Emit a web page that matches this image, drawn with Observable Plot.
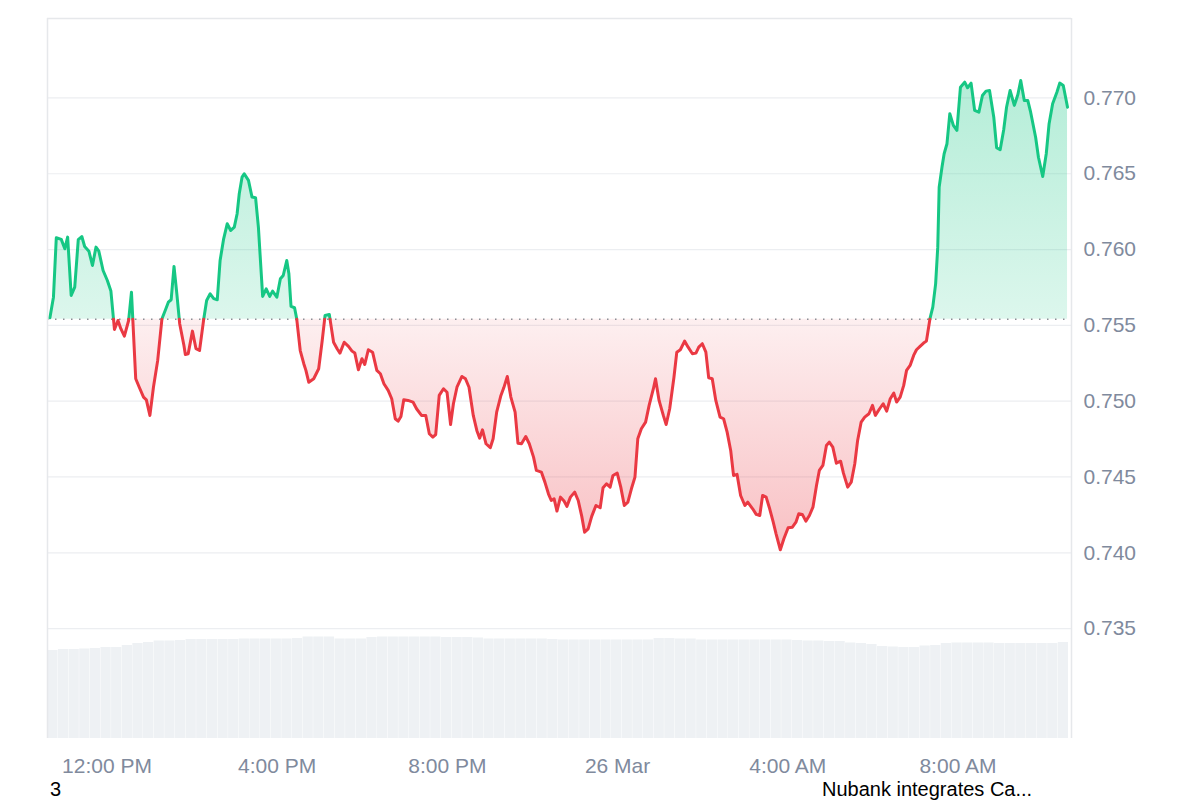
<!DOCTYPE html>
<html>
<head>
<meta charset="utf-8">
<script src="https://cdn.jsdelivr.net/npm/d3@7"></script>
<script src="https://cdn.jsdelivr.net/npm/@observablehq/plot@0.6"></script>
<style>
  body { margin: 0; background: #fff; font-family: "Liberation Sans", Arial, Helvetica, sans-serif; }
  #wrap { position: relative; width: 1200px; height: 800px; overflow: hidden; }
  .cap { position: absolute; font-size: 20px; line-height: 22px; color: #000; white-space: nowrap; }
</style>
</head>
<body>
<div id="wrap"></div>
<script>
// ---- Data ----
const startIso = "2025-03-25T10:36:30Z";        // time of minute 0 of the price series
const xDomainIso = ["2025-03-25T10:36:06Z", "2025-03-26T10:40:06Z"];
const baseline = 0.75541;                       // reference (open) price, dotted line
const yDomain = [0.72775, 0.77524];
const yTicks = [0.735, 0.740, 0.745, 0.750, 0.755, 0.760, 0.765, 0.770];
const xTickIso = ["2025-03-25T12:00:00Z", "2025-03-25T16:00:00Z", "2025-03-25T20:00:00Z",
                  "2025-03-26T00:00:00Z", "2025-03-26T04:00:00Z", "2025-03-26T08:00:00Z"];
const xTickLabels = ["12:00 PM", "4:00 PM", "8:00 PM", "26 Mar", "4:00 AM", "8:00 AM"];

// minutes after start
const priceMinutes = [3,8,12,19,24,28,33,38,43,48,52,58,63,68,72,78,84,89,94,99,103,108,114,118,124,129,135,139,144,149,155,161,166,170,174,178,182,186,192,194,198,204,209,214,220,224,229,234,239,243,248,253,258,263,267,270,274,277,283,288,293,297,303,308,313,317,323,328,332,337,340,343,348,351,356,361,364,368,375,382,387,391,397,403,408,412,418,424,429,433,438,443,447,452,458,464,469,474,480,485,490,494,498,502,508,515,520,527,533,538,543,547,552,558,563,568,572,577,584,589,594,600,605,609,613,618,624,628,633,639,643,648,653,659,663,668,674,679,685,689,696,701,706,710,714,718,723,728,732,737,743,748,753,757,762,767,773,779,783,788,793,797,803,808,813,818,823,828,832,837,843,848,854,857,862,868,872,877,883,887,892,898,903,909,914,918,923,928,932,937,942,948,953,958,963,967,972,977,983,987,994,999,1004,1008,1013,1018,1023,1027,1033,1038,1044,1050,1055,1059,1064,1069,1074,1079,1084,1088,1093,1098,1102,1107,1112,1118,1122,1128,1133,1138,1142,1147,1152,1158,1163,1167,1173,1178,1183,1188,1193,1197,1202,1207,1211,1216,1221,1225,1230,1235,1239,1241,1244,1248,1252,1255,1257,1261,1264,1268,1272,1277,1282,1287,1293,1297,1302,1307,1313,1318,1323,1328,1334,1338,1343,1348,1352,1357,1363,1368,1372,1377,1382,1386,1393,1397,1403,1408,1412,1417,1423,1427,1432,1438];

const prices = [0.75550,0.75686,0.76078,0.76067,0.76005,0.76082,0.75697,0.75752,0.76065,0.76086,0.76020,0.75989,0.75895,0.76016,0.75989,0.75862,0.75796,0.75726,0.75473,0.75532,0.75478,0.75429,0.75532,0.75719,0.75148,0.75092,0.75027,0.75009,0.74906,0.75092,0.75269,0.75544,0.75603,0.75653,0.75669,0.75889,0.75708,0.75511,0.75367,0.75308,0.75313,0.75462,0.75346,0.75334,0.75544,0.75664,0.75708,0.75676,0.75669,0.75928,0.76071,0.76170,0.76126,0.76148,0.76236,0.76368,0.76478,0.76500,0.76456,0.76346,0.76342,0.76148,0.75691,0.75741,0.75691,0.75726,0.75686,0.75807,0.75829,0.75928,0.75840,0.75625,0.75616,0.75544,0.75334,0.75247,0.75203,0.75125,0.75148,0.75214,0.75400,0.75565,0.75572,0.75389,0.75346,0.75317,0.75389,0.75361,0.75330,0.75317,0.75207,0.75280,0.75242,0.75339,0.75323,0.75203,0.75181,0.75115,0.75071,0.75016,0.74884,0.74868,0.74899,0.75009,0.75005,0.74994,0.74950,0.74906,0.74906,0.74785,0.74763,0.74780,0.75038,0.75082,0.75059,0.74846,0.74983,0.75092,0.75163,0.75148,0.75092,0.74906,0.74807,0.74756,0.74811,0.74719,0.74693,0.74752,0.74928,0.75038,0.75088,0.75163,0.75027,0.74928,0.74723,0.74719,0.74767,0.74719,0.74631,0.74543,0.74532,0.74466,0.74389,0.74345,0.74356,0.74275,0.74367,0.74341,0.74306,0.74367,0.74400,0.74345,0.74240,0.74136,0.74158,0.74240,0.74312,0.74297,0.74429,0.74455,0.74433,0.74510,0.74525,0.74433,0.74312,0.74334,0.74422,0.74499,0.74752,0.74818,0.74862,0.74972,0.75082,0.75148,0.75005,0.74906,0.74846,0.74950,0.75158,0.75323,0.75339,0.75396,0.75356,0.75313,0.75317,0.75356,0.75379,0.75323,0.75154,0.75148,0.75005,0.74895,0.74884,0.74796,0.74675,0.74510,0.74517,0.74378,0.74312,0.74334,0.74290,0.74253,0.74246,0.74378,0.74367,0.74290,0.74202,0.74125,0.74020,0.74092,0.74165,0.74169,0.74202,0.74257,0.74253,0.74209,0.74246,0.74301,0.74444,0.74543,0.74576,0.74708,0.74730,0.74697,0.74591,0.74604,0.74525,0.74433,0.74466,0.74587,0.74741,0.74862,0.74895,0.74917,0.74972,0.74906,0.74950,0.74983,0.74934,0.75016,0.75053,0.74994,0.75027,0.75104,0.75203,0.75236,0.75302,0.75339,0.75361,0.75383,0.75396,0.75455,0.75544,0.75620,0.75774,0.76016,0.76412,0.76544,0.76632,0.76698,0.76896,0.76819,0.76786,0.77071,0.77104,0.77067,0.77098,0.76918,0.76906,0.77016,0.77045,0.77049,0.76873,0.76672,0.76658,0.76790,0.76939,0.77049,0.76951,0.77023,0.77115,0.76983,0.76983,0.76906,0.76741,0.76609,0.76482,0.76632,0.76830,0.76962,0.77038,0.77098,0.77082,0.76939];

// 24h volume (million USD), one bar per 15 minutes
const volumeIntervalMinutes = 15;
const volumes = [176,178,178,179,180,182,182,186,190,192,195,195,196,198,198,198,198,198,199,199,199,199,199,200,203,203,203,199,199,199,202,203,203,203,203,203,203,202,202,202,201,199,199,199,199,199,199,198,197,197,197,197,197,197,197,197,197,200,200,199,199,197,197,197,197,197,197,197,197,197,196,195,195,194,194,191,190,188,184,183,182,182,185,186,190,191,191,191,191,190,190,190,190,190,190,192];
const volumeAxisMax = 1440;   // volume value that would fill the full plot height

const bottomLeftText = "3";
const bottomRightText = "Nubank integrates Ca...";

// ---- Build rows ----
const MIN = 60000;
const t0 = new Date(startIso).getTime();
const pts = priceMinutes.map((m, i) => ({t: new Date(t0 + m * MIN), p: prices[i]}));
const rows = [];
let seg = 0;
for (let i = 0; i < pts.length; i++) {
  const a = pts[i];
  const up = a.p >= baseline;
  if (i > 0) {
    const b = pts[i - 1];
    const bu = b.p >= baseline;
    if (bu !== up) {
      const f = (baseline - b.p) / (a.p - b.p);
      const tc = new Date(+b.t + f * (a.t - b.t));
      rows.push({t: tc, p: baseline, seg, up: bu});
      seg++;
      rows.push({t: tc, p: baseline, seg, up});
    }
  }
  rows.push({t: a.t, p: a.p, seg, up});
}
const upRows = rows.filter(d => d.up);
const dnRows = rows.filter(d => !d.up);

const volRows = volumes.map((v, i) => ({
  t1: new Date(t0 + i * volumeIntervalMinutes * MIN),
  t2: new Date(t0 + (i + 1) * volumeIntervalMinutes * MIN),
  top: yDomain[0] + v / volumeAxisMax * (yDomain[1] - yDomain[0])
}));

const xDomain = xDomainIso.map(s => new Date(s));
const xTicks = xTickIso.map(s => new Date(s));

const GREEN = "#16c784", RED = "#ea3943";

const chart = Plot.plot({
  width: 1200,
  height: 800,
  marginLeft: 47,
  marginRight: 129,
  marginTop: 18,
  marginBottom: 62,
  style: {fontFamily: "'Liberation Sans', Arial, Helvetica, sans-serif", fontSize: "21px", color: "#808a9d", background: "#fff"},
  x: {type: "utc", domain: xDomain, ticks: xTicks,
      tickFormat: d => xTickLabels[xTicks.findIndex(t => +t === +d)],
      tickSize: 0, tickPadding: 20, label: null},
  y: {domain: yDomain, axis: "right", ticks: yTicks, tickFormat: d3.format(".3f"),
      tickSize: 0, tickPadding: 12, label: null},
  marks: [
    Plot.ruleY(yTicks, {stroke: "#eceef1", strokeWidth: 1.2}),
    Plot.rect(volRows, {x1: "t1", x2: "t2", y1: yDomain[0], y2: "top", fill: "#eef1f4", insetRight: 0.4}),
    Plot.areaY(upRows, {x: "t", y1: baseline, y2: "p", z: "seg", fill: "url(#gGreen)"}),
    Plot.areaY(dnRows, {x: "t", y1: baseline, y2: "p", z: "seg", fill: "url(#gRed)"}),
    Plot.ruleY([baseline], {stroke: "#8b8f96", strokeWidth: 1.5, strokeDasharray: "1.5,6.5"}),
    Plot.line(upRows, {x: "t", y: "p", z: "seg", stroke: GREEN, strokeWidth: 3, strokeLinejoin: "round", strokeLinecap: "round"}),
    Plot.line(dnRows, {x: "t", y: "p", z: "seg", stroke: RED, strokeWidth: 3, strokeLinejoin: "round", strokeLinecap: "round"}),
    Plot.ruleX(xDomain, {stroke: "#e6e8eb", strokeWidth: 1.5}),
    Plot.ruleY([yDomain[1]], {stroke: "#e6e8eb", strokeWidth: 1.5})
  ]
});

// gradients (defined in screen space through the y scale)
const ys = chart.scale("y");
const defs = d3.select(chart).insert("defs", ":first-child");
const gg = defs.append("linearGradient").attr("id", "gGreen").attr("gradientUnits", "userSpaceOnUse")
  .attr("x1", 0).attr("x2", 0).attr("y1", ys.apply(0.7712)).attr("y2", ys.apply(baseline));
gg.append("stop").attr("offset", 0).attr("stop-color", GREEN).attr("stop-opacity", 0.32);
gg.append("stop").attr("offset", 1).attr("stop-color", GREEN).attr("stop-opacity", 0.15);
const gr = defs.append("linearGradient").attr("id", "gRed").attr("gradientUnits", "userSpaceOnUse")
  .attr("x1", 0).attr("x2", 0).attr("y1", ys.apply(baseline)).attr("y2", ys.apply(0.7400));
gr.append("stop").attr("offset", 0).attr("stop-color", RED).attr("stop-opacity", 0.08);
gr.append("stop").attr("offset", 1).attr("stop-color", RED).attr("stop-opacity", 0.32);

const wrap = document.getElementById("wrap");
wrap.appendChild(chart);
const c1 = document.createElement("div");
c1.className = "cap"; c1.style.left = "50px"; c1.style.top = "777.6px"; c1.textContent = bottomLeftText;
const c2 = document.createElement("div");
c2.className = "cap"; c2.style.left = "822px"; c2.style.top = "777.6px"; c2.textContent = bottomRightText;
wrap.appendChild(c1); wrap.appendChild(c2);
</script>
</body>
</html>
